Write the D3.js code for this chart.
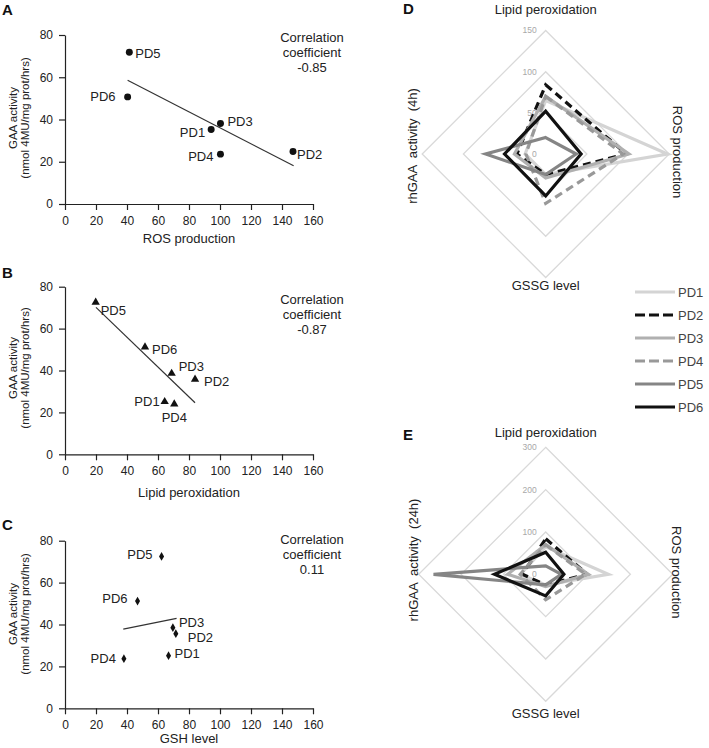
<!DOCTYPE html>
<html><head><meta charset="utf-8">
<script src="https://cdn.jsdelivr.net/npm/d3@7/dist/d3.min.js"></script>
<style>
body{margin:0;background:#fff}
svg{display:block;font-family:"Liberation Sans",Arial,Helvetica,sans-serif}
.pre{white-space:pre}
</style>
</head><body>
<svg id="chart" width="709" height="748"></svg>
<script>
// ---------------- DATA ----------------
const categories = ["PD1","PD2","PD3","PD4","PD5","PD6"];
const xTickValues = [0,20,40,60,80,100,120,140,160];
const yTickValues = [0,20,40,60,80];

// Panel A: ROS production vs GAA activity
const rosA = [94.3, 147.1, 100.3, 100.3, 41.5, 40.4];
const gaaA = [35.3, 24.9, 38.1, 23.6, 71.8, 50.7];
const fitA = [[40.4, 58.6], [147.5, 18.1]];
const corrA = "-0.85";

// Panel B: Lipid peroxidation vs GAA activity
const lipidB = [64.3, 83.9, 68.8, 70.5, 19.8, 51.6];
const gaaB = [25.1, 35.8, 38.6, 24.0, 72.5, 51.2];
const fitB = [[20.0, 70.1], [83.9, 24.6]];
const corrB = "-0.87";

// Panel C: GSH level vs GAA activity
const gshC = [66.8, 71.5, 69.6, 38.0, 62.3, 46.8];
const gaaC = [25.1, 35.6, 38.5, 23.7, 72.5, 51.2];
const fitC = [[37.6, 37.8], [72.0, 42.9]];
const corrC = "0.11";

// Radar panels D / E (axes clockwise from top)
const radarAxesD = ["Lipid peroxidation", "ROS production", "GSSG level", "rhGAA  activity  (4h)"];
const radarAxesE = ["Lipid peroxidation", "ROS production", "GSSG level", "rhGAA  activity  (24h)"];
const lipidR = [65, 84, 70, 70, 20, 52];
const rosR   = [148, 98, 101, 94, 37, 43];
const gssgR  = [25, 25, 29, 60, 25, 51];
const gaa4h  = [25, 35, 38, 24, 73, 50];
const gaa24h = [60, 55, 90, 60, 265, 121];
const ringsD = [50, 100, 150];
const ringsE = [100, 200, 300];
const ringLabelsD = [0, 50, 100, 150];
const ringLabelsE = [0, 100, 200, 300];

// ---------------- STYLES ----------------
const seriesStyle = {
  PD1: {color:"#d4d4d4", dash:null},
  PD2: {color:"#111111", dash:"8,5"},
  PD3: {color:"#b0b0b0", dash:null},
  PD4: {color:"#999999", dash:"8,5"},
  PD5: {color:"#858585", dash:null},
  PD6: {color:"#111111", dash:null}
};

const svg = d3.select("#chart");
const FONT = 13;

// ---------------- SCATTER ----------------
function scatter(cfg){
  const g = svg.append("g");
  const x = d3.scaleLinear().domain([0,160]).range([65,313]);
  const y = d3.scaleLinear().domain([0,80]).range([cfg.bottom, cfg.top]);

  const xa = g.append("g").attr("transform",`translate(0,${cfg.bottom})`)
    .call(d3.axisBottom(x).tickValues(xTickValues).tickSize(6).tickSizeOuter(0).tickPadding(6));
  const ya = g.append("g").attr("transform","translate(65,0)")
    .call(d3.axisLeft(y).tickValues(yTickValues).tickSize(6).tickSizeOuter(0).tickPadding(6));
  [xa,ya].forEach(a=>{
    a.selectAll("path,line").attr("stroke","#222").attr("stroke-width",1.2);
    a.selectAll("text").attr("font-size",12).attr("fill","#222")
      .attr("font-family",'"Liberation Sans",Arial,sans-serif');
  });

  // y title
  const yt = g.append("text").attr("transform",`translate(0,${cfg.yTitleC}) rotate(-90)`)
    .attr("text-anchor","middle").attr("font-size",11.5).attr("fill","#222");
  yt.append("tspan").attr("x",0).attr("y",17).text("GAA activity");
  yt.append("tspan").attr("x",0).attr("y",29).text("(nmol 4MU/mg prot/hrs)");

  // x title
  g.append("text").attr("x",189).attr("y",cfg.xTitleY).attr("text-anchor","middle")
    .attr("font-size",FONT).attr("fill","#222").text(cfg.xTitle);

  // fit line
  g.append("line")
    .attr("x1",x(cfg.fit[0][0])).attr("y1",y(cfg.fit[0][1]))
    .attr("x2",x(cfg.fit[1][0])).attr("y2",y(cfg.fit[1][1]))
    .attr("stroke","#333").attr("stroke-width",1.2);

  // points
  const sym = d3.symbol().type(cfg.symbol).size(cfg.symSize);
  categories.forEach((c,i)=>{
    const px = x(cfg.xs[i]), py = y(cfg.ys[i]);
    g.append("path").attr("d",sym()).attr("transform",`translate(${px},${py})`).attr("fill","#111");
    const o = cfg.labelOff[i];
    g.append("text").attr("x",px+o[0]).attr("y",py+o[1]).attr("dy","0.35em")
      .attr("text-anchor",o[2]).attr("font-size",FONT).attr("fill","#222").text(c);
  });

  // correlation text
  const ct = g.append("text").attr("text-anchor","middle").attr("font-size",FONT).attr("fill","#222");
  ["Correlation","coefficient",cfg.corr].forEach((t,k)=>{
    ct.append("tspan").attr("x",312).attr("y",cfg.corrY + k*15).text(t);
  });

  // panel letter
  g.append("text").attr("x",2).attr("y",cfg.letterY).attr("font-size",15)
    .attr("font-weight","bold").attr("fill","#111").text(cfg.letter);
}

scatter({top:35, bottom:204, xs:rosA, ys:gaaA, fit:fitA, corr:corrA, corrY:42, letter:"A", letterY:15,
  xTitle:"ROS production", xTitleY:243, yTitleC:118, symbol:d3.symbolCircle, symSize:38,
  labelOff:[[-6,3,"end"],[4,3,"start"],[7,-2,"start"],[-7,2,"end"],[6,1,"start"],[-12,0,"end"]]});

scatter({top:286.7, bottom:454.3, xs:lipidB, ys:gaaB, fit:fitB, corr:corrB, corrY:304, letter:"B", letterY:278,
  xTitle:"Lipid peroxidation", xTitleY:497, yTitleC:368, symbol:d3.symbolTriangle, symSize:30,
  labelOff:[[-5,0,"end"],[9,2,"start"],[7,-7,"start"],[0,13,"middle"],[5,8,"start"],[7,2,"start"]]});

scatter({top:540.7, bottom:708.3, xs:gshC, ys:gaaC, fit:fitC, corr:corrC, corrY:544, letter:"C", letterY:530,
  xTitle:"GSH level", xTitleY:743, yTitleC:614, symbol:d3.symbolDiamond, symSize:22,
  labelOff:[[6,-2,"start"],[12,4,"start"],[6,-5,"start"],[-8,0,"end"],[-9,-2,"end"],[-10,-3,"end"]]});

// ---------------- RADAR ----------------
function radar(cfg){
  const g = svg.append("g").attr("transform",`translate(${cfg.cx},${cfg.cy})`);
  const r = d3.scaleLinear().domain([0,cfg.max]).range([0,cfg.R]);
  const angles = [0, Math.PI/2, Math.PI, 3*Math.PI/2];
  const line = d3.lineRadial().angle((d,i)=>angles[i]).radius(d=>r(d)).curve(d3.curveLinearClosed);

  cfg.rings.forEach(v=>{
    g.append("path").attr("d",line([v,v,v,v])).attr("fill","none")
      .attr("stroke","#d9d9d9").attr("stroke-width",1.3);
  });
  cfg.ringLabels.forEach(v=>{
    g.append("text").attr("x",-9).attr("y",-r(v)).attr("dy","0.35em").attr("text-anchor","end")
      .attr("font-size",8.5).attr("fill","#a8a8a8").text(v);
  });

  categories.forEach((c,i)=>{
    const vals = [lipidR[i], rosR[i], gssgR[i], cfg.gaa[i]];
    const s = seriesStyle[c];
    g.append("path").attr("d",line(vals)).attr("fill","none")
      .attr("stroke",s.color).attr("stroke-width",3.2).attr("stroke-linejoin","miter")
      .attr("stroke-dasharray",s.dash);
  });

  const lab = (t,x,y,rot)=>svg.append("text").attr("class","pre")
    .attr("transform",`translate(${x},${y}) rotate(${rot})`).attr("text-anchor","middle")
    .attr("dy","0.35em").attr("font-size",FONT).attr("fill","#222").text(t);
  lab(cfg.axes[0], cfg.cx, cfg.topLabY, 0);
  lab(cfg.axes[1], cfg.rightLabX, cfg.cy - 2, 90);
  lab(cfg.axes[2], cfg.cx, cfg.botLabY, 0);
  lab(cfg.axes[3], cfg.leftLabX, cfg.leftLabY, -90);

  svg.append("text").attr("x",403).attr("y",cfg.letterY).attr("font-size",15)
    .attr("font-weight","bold").attr("fill","#111").text(cfg.letter);
}

radar({cx:545.7, cy:154, R:123.5, max:150, rings:ringsD, ringLabels:ringLabelsD, gaa:gaa4h, axes:radarAxesD,
  topLabY:9.5, botLabY:285, rightLabX:678, leftLabX:412, leftLabY:146, letter:"D", letterY:14});
radar({cx:545.7, cy:574.3, R:127, max:300, rings:ringsE, ringLabels:ringLabelsE, gaa:gaa24h, axes:radarAxesE,
  topLabY:432, botLabY:713, rightLabX:677, leftLabX:413, leftLabY:560, letter:"E", letterY:440});

// ---------------- LEGEND ----------------
const leg = svg.append("g");
const legY = d3.scalePoint().domain(categories).range([292, 407]);
categories.forEach(c=>{
  const s = seriesStyle[c];
  leg.append("line").attr("x1",635).attr("x2",675).attr("y1",legY(c)).attr("y2",legY(c))
    .attr("stroke",s.color).attr("stroke-width",3).attr("stroke-dasharray",s.dash ? "10,4" : null);
  leg.append("text").attr("x",678).attr("y",legY(c)).attr("dy","0.35em")
    .attr("font-size",FONT).attr("fill","#444").text(c);
});
</script>
</body></html>
